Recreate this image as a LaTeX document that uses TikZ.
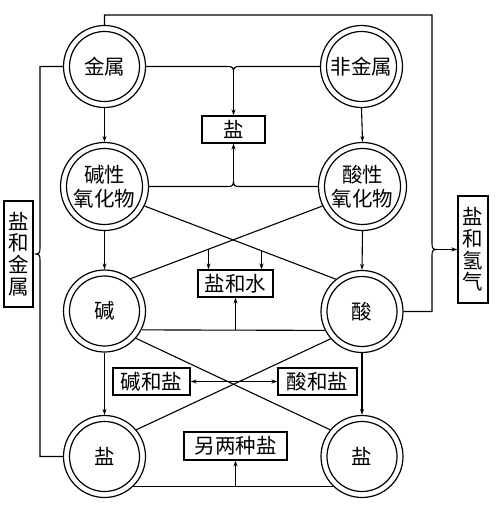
\documentclass[tikz,border=0pt]{standalone}
\usepackage{fontspec}
\newfontfamily\cjk{Noto Sans CJK SC}
\usetikzlibrary{arrows.meta,calc,intersections}
\begin{document}
\begin{tikzpicture}[x=1pt,y=-1pt,
  every path/.style={line width=1.1pt},
  arr/.style={-{Stealth[length=6pt,width=4pt]}},
  barr/.style={{Stealth[length=6pt,width=4pt]}-{Stealth[length=6pt,width=4pt]}},
  txt/.style={font=\cjk\fontsize{20.5}{24}\selectfont},
  ring/.style={circle, draw, line width=1.2pt, minimum size=82pt, inner sep=0pt, txt, align=center,
    path picture={\draw[line width=1.2pt] (path picture bounding box.center) circle (35pt);}},
  bigring/.style={circle, draw, line width=1.2pt, minimum size=88pt, inner sep=0pt, txt, align=center,
    path picture={\draw[line width=1.2pt] (path picture bounding box.center) circle (38pt);}},
  box/.style={draw, line width=1.1pt, inner sep=0pt, txt, minimum height=27pt},
  vbox/.style={draw, line width=1.1pt, inner sep=0pt, align=center,
    font=\cjk\fontsize{20.5}{21.7}\selectfont, minimum width=29pt, minimum height=106pt}
]
\useasboundingbox (0,0) rectangle (500,510);

% circles
\node[ring] (jinshu) at (104.5,66.5) {金属};
\node[ring] (fjs) at (361.5,66.5) {非金属};
\node[bigring] (jyh) at (104.5,186.5) {碱性\\氧化物};
\node[bigring] (syh) at (362.5,186.5) {酸性\\氧化物};
\node[ring] (jian) at (104.5,311) {碱};
\node[ring] (suan) at (362,311.5) {酸};
\node[ring] (yanL) at (104.5,456.5) {盐};
\node[ring] (yanR) at (362,456.5) {盐};

% boxes
\node[box, minimum width=63pt] (yan) at (233.5,129.5) {盐};
\node[box, minimum width=75pt] (ysw) at (235.5,283.5) {盐和水};
\node[box, minimum width=77pt] (jhy) at (151.5,381.5) {碱和盐};
\node[box, minimum width=79pt] (shy) at (317.5,381.5) {酸和盐};
\node[box, minimum width=103pt, minimum height=28pt] (lls) at (235.5,446) {另两种盐};
\node[vbox] (yhj) at (18.5,254) {盐\\和\\金\\属};
\node[vbox, minimum width=30pt, minimum height=107pt] (yhq) at (473,249.5) {盐\\和\\氢\\气};

% vertical arrows
\draw[arr] (jinshu.south) -- (jyh.north);
\draw[arr] (fjs.south) -- (syh.north);
\draw[arr] (jyh.south) -- (jian.north);
\draw[arr] (syh.south) -- (suan.north);
\draw[arr] (jian.south) -- (yanL.north);
\draw[arr] (suan.south) -- (yanR.north);

% top horizontal with brace pointing down
\coordinate (b1) at (yan.north |- jinshu.east);
\coordinate (t1) at ($(b1)+(0,6)$);
\draw (jinshu.east) -- ($(b1)+(-6,0)$) .. controls ($(b1)+(-1,0)$) and ($(b1)+(0,1)$) .. (t1)
  .. controls ($(b1)+(0,1)$) and ($(b1)+(1,0)$) .. ($(b1)+(6,0)$) -- (fjs.west);
\draw[arr] (t1) -- (yan.north);

% oxide horizontal with brace pointing up
\coordinate (b2) at (yan.south |- jyh.east);
\coordinate (t2) at ($(b2)+(0,-6)$);
\draw (jyh.east) -- ($(b2)+(-6,0)$) .. controls ($(b2)+(-1,0)$) and ($(b2)+(0,-1)$) .. (t2)
  .. controls ($(b2)+(0,-1)$) and ($(b2)+(1,0)$) .. ($(b2)+(6,0)$) -- (syh.west);
\draw[arr] (t2) -- (yan.south);

% outer right loop: metal top -> acid, brace to 盐和氢气
\coordinate (tr) at (432,15);
\coordinate (rb) at (432,249.5);
\coordinate (rt) at ($(rb)+(5,0)$);
\draw (jinshu.north) |- (tr) -- ($(rb)+(0,-6)$) .. controls ($(rb)+(0,-1)$) and ($(rb)+(1,0)$) .. (rt)
  .. controls ($(rb)+(1,0)$) and ($(rb)+(0,1)$) .. ($(rb)+(0,6)$) |- (suan.east);
\draw[arr] (rt) -- (yhq.west);

% outer left loop: metal -> salt, brace to 盐和金属
\coordinate (lb) at (40,254);
\draw (jinshu.west) -| ($(lb)+(0,-6)$) .. controls ($(lb)+(0,-1)$) and ($(lb)+(-1,0)$) .. ($(lb)+(-5,0)$)
  .. controls ($(lb)+(-1,0)$) and ($(lb)+(0,1)$) .. ($(lb)+(0,6)$) |- (yanL.west);

% first crossing
\draw[name path=cA] (jyh.-26) -- (suan.129);
\draw[name path=cB] (syh.206) -- (jian.51);
\path[name path=vA] ($(ysw.north)+(-27,0)$) -- ++(0,-60);
\path[name path=vB] ($(ysw.north)+(26,0)$) -- ++(0,-60);
\path[name intersections={of=cB and vA, by=pA}];
\path[name intersections={of=cA and vB, by=pB}];
\draw[arr] (pA) -- (pA |- ysw.north);
\draw[arr] (pB) -- (pB |- ysw.north);

% base-acid line
\draw (jian.-27) -- (suan.207);
\draw[arr] (ysw.south |- jian.-27) -- (ysw.south);

% second crossing
\draw (jian.-41) -- (yanR.140);
\draw (suan.221) -- (yanL.40);
\draw[barr] (jhy.east) -- (shy.west);

% bottom salts line
\draw (yanL.-47) -- (yanR.227);
\draw[arr] (lls.south |- yanL.-47) -- (lls.south);
\end{tikzpicture}
\end{document}
